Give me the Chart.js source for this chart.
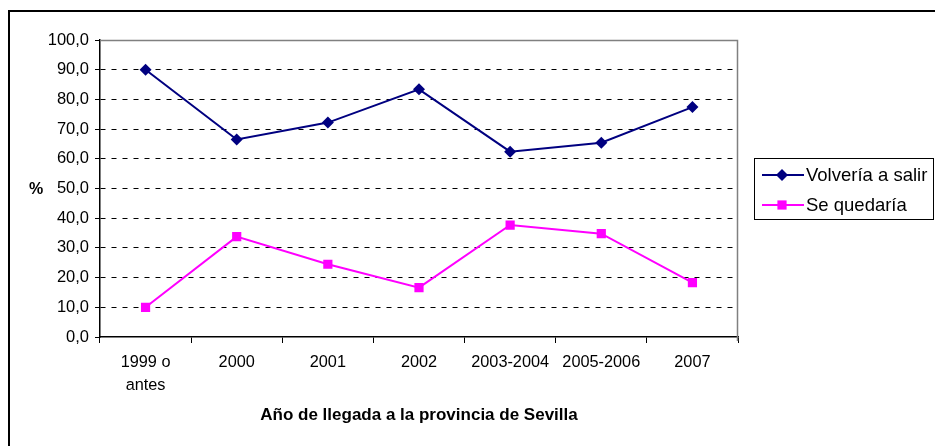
<!DOCTYPE html>
<html lang="es">
<head>
    <meta charset="UTF-8">
    <title>Volvería a salir / Se quedaría</title>
    <script src="https://cdn.jsdelivr.net/npm/chart.js"></script>
    <style>
        html, body { margin: 0; padding: 0; background: #fff; }
        #wrap { width: 935px; height: 446px; position: relative; }
    </style>
</head>
<body>
    <div id="wrap"><canvas id="llegadaChart" width="935" height="446"></canvas></div>

    <script>
        const categorias = [['1999 o', 'antes'], '2000', '2001', '2002', '2003-2004', '2005-2006', '2007'];
        const volveriaSalir = [90.0, 66.5, 72.2, 83.4, 62.4, 65.4, 77.4];
        const seQuedaria = [10.0, 33.8, 24.5, 16.6, 37.7, 34.8, 18.3];
        const yMin = 0, yMax = 100, yPaso = 10;
        const tituloX = 'Año de llegada a la provincia de Sevilla';
        const tituloY = '%';

        const FONT = 'Liberation Sans, Arial, sans-serif';

        // frame, plot border, axis titles and the boxed legend
        const extras = {
            id: 'extras',
            beforeDraw(chart) {
                const c = chart.ctx;
                c.save();
                c.fillStyle = '#fff';
                c.fillRect(0, 0, chart.width, chart.height);
                c.strokeStyle = '#000';
                c.lineWidth = 2;
                c.strokeRect(9, 11, chart.width + 20, chart.height + 20);
                c.restore();
            },
            afterDraw(chart) {
                const c = chart.ctx;
                const a = chart.chartArea;
                c.save();
                // top and right edges of the plot
                c.strokeStyle = '#808080';
                c.lineWidth = 1.5;
                c.beginPath();
                c.moveTo(a.left, a.top + 0.5);
                c.lineTo(a.right - 0.5, a.top + 0.5);
                c.lineTo(a.right - 0.5, a.bottom + 4);
                c.stroke();

                c.fillStyle = '#000';
                c.font = 'bold 17px ' + FONT;
                c.textAlign = 'center';
                c.textBaseline = 'middle';
                c.fillText(tituloX, (a.left + a.right) / 2, 415);
                c.font = 'bold 16px ' + FONT;
                c.fillText(tituloY, 36, 190);

                // legend
                c.strokeStyle = '#000';
                c.lineWidth = 1;
                c.strokeRect(754.5, 158.5, 179, 61);
                c.font = '18.5px ' + FONT;
                c.textAlign = 'left';
                chart.data.datasets.forEach((ds, i) => {
                    const y = 175 + i * 30;
                    c.strokeStyle = ds.borderColor;
                    c.lineWidth = ds.borderWidth;
                    c.beginPath();
                    c.moveTo(762, y);
                    c.lineTo(804, y);
                    c.stroke();
                    c.fillStyle = ds.pointBackgroundColor;
                    Chart.helpers.drawPoint(c, {
                        pointStyle: ds.pointStyle,
                        radius: ds.pointRadius,
                        borderWidth: 0
                    }, 782, y);
                    c.fillStyle = '#000';
                    c.fillText(ds.label, 806, y + 1);
                });
                c.restore();
            }
        };

        const ctx = document.getElementById('llegadaChart').getContext('2d');
        const llegadaChart = new Chart(ctx, {
            type: 'line',
            data: {
                labels: categorias,
                datasets: [{
                    label: 'Volvería a salir',
                    data: volveriaSalir,
                    borderColor: '#000080',
                    borderWidth: 2,
                    pointStyle: 'rectRot',
                    pointRadius: 6,
                    pointBackgroundColor: '#000080',
                    pointBorderColor: '#000080',
                    pointBorderWidth: 0,
                    fill: false,
                    tension: 0
                }, {
                    label: 'Se quedaría',
                    data: seQuedaria,
                    borderColor: '#FF00FF',
                    borderWidth: 2,
                    pointStyle: 'rect',
                    pointRadius: 6.5,
                    pointBackgroundColor: '#FF00FF',
                    pointBorderColor: '#FF00FF',
                    pointBorderWidth: 0,
                    fill: false,
                    tension: 0
                }]
            },
            options: {
                responsive: false,
                animation: false,
                layout: { padding: { left: 0, top: 40, right: 197, bottom: 0 } },
                plugins: {
                    legend: { display: false },
                    tooltip: { enabled: false }
                },
                scales: {
                    x: {
                        offset: true,
                        afterFit: s => { s.height = 109; },
                        grid: {
                            offset: true,
                            drawOnChartArea: false,
                            tickLength: 6,
                            tickColor: '#000',
                            tickWidth: 1
                        },
                        border: { color: '#000', width: 1.5 },
                        ticks: {
                            color: '#000',
                            padding: 8,
                            maxRotation: 0,
                            font: { family: FONT, size: 16.3, lineHeight: 1.42 }
                        }
                    },
                    y: {
                        min: yMin,
                        max: yMax,
                        afterFit: s => { s.width = 100; },
                        grid: {
                            color: c => (c.tick && (c.tick.value === yMin || c.tick.value === yMax)) ? 'rgba(0,0,0,0)' : '#000',
                            lineWidth: 1,
                            tickLength: 5,
                            tickColor: '#000',
                            tickWidth: 1
                        },
                        border: { color: '#000', width: 1.5, dash: [5, 6] },
                        ticks: {
                            stepSize: yPaso,
                            color: '#000',
                            padding: 6,
                            font: { family: FONT, size: 16.5 },
                            callback: v => v.toFixed(1).replace('.', ',')
                        }
                    }
                }
            },
            plugins: [extras]
        });
    </script>
</body>
</html>
